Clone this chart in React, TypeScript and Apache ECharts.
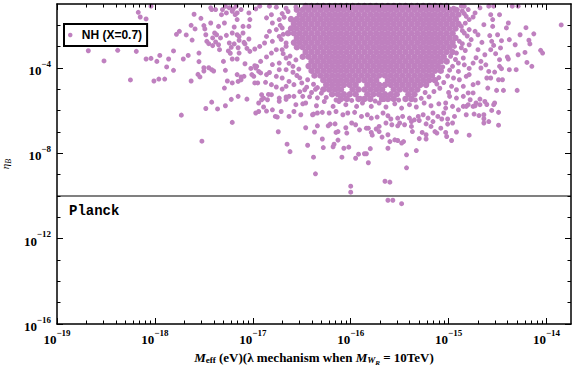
import { useEffect, useRef } from "react";
import * as echarts from "echarts";

// ---- axis description (values are log10 of the quantities) ----
const seriesName = "NH (X=0.7)";
const pointColor = "#bf80bf";
const planckLogEta = -10;
const planckLabel = "Planck";
const xExtent = [-19, -13.75];
const yExtent = [-16, -1];
const xMajorExps = [-19, -18, -17, -16, -15, -14];
const yLabelExps = [-16, -12, -8, -4];
const yMinorExps = [-15, -14, -13, -11, -10, -9, -7, -6, -5, -3, -2];
const minorMultipliers = [2, 3, 4, 5, 6, 7, 8, 9];

// ---- data: [log10 Meff, log10 etaB] ----
// dense core, read row by row: [log10 etaB, log10 Meff values]
const coreRows: [number, number[]][] = [
  [-1.1, [-16.46, -16.4, -16.34, -16.28, -16.22, -16.16, -16.1, -16.04, -15.98, -15.92, -15.86, -15.8, -15.74, -15.68, -15.62, -15.56, -15.5, -15.44, -15.38, -15.32, -15.26, -15.2, -15.14, -15.08, -15.02]],
  [-1.27, [-16.55, -16.49, -16.43, -16.37, -16.31, -16.25, -16.19, -16.13, -16.07, -16.01, -15.95, -15.89, -15.83, -15.77, -15.71, -15.65, -15.59, -15.53, -15.47, -15.41, -15.35, -15.29, -15.23, -15.17, -15.11, -15.05, -14.99, -14.93]],
  [-1.49, [-16.52, -16.46, -16.4, -16.34, -16.28, -16.22, -16.16, -16.1, -16.04, -15.98, -15.92, -15.86, -15.8, -15.74, -15.68, -15.62, -15.56, -15.5, -15.44, -15.38, -15.32, -15.26, -15.2, -15.14, -15.08, -15.02, -14.96, -14.9]],
  [-1.71, [-16.61, -16.55, -16.49, -16.43, -16.37, -16.31, -16.25, -16.19, -16.13, -16.07, -16.01, -15.95, -15.89, -15.83, -15.77, -15.71, -15.65, -15.59, -15.53, -15.47, -15.41, -15.35, -15.29, -15.23, -15.17, -15.11, -15.05, -14.99, -14.93]],
  [-1.93, [-16.58, -16.52, -16.46, -16.4, -16.34, -16.28, -16.22, -16.16, -16.1, -16.04, -15.98, -15.92, -15.86, -15.8, -15.74, -15.68, -15.62, -15.56, -15.5, -15.44, -15.38, -15.32, -15.26, -15.2, -15.14, -15.08, -15.02, -14.96, -14.9]],
  [-2.15, [-16.61, -16.55, -16.49, -16.43, -16.37, -16.31, -16.25, -16.19, -16.13, -16.07, -16.01, -15.95, -15.89, -15.83, -15.77, -15.71, -15.65, -15.59, -15.53, -15.47, -15.41, -15.35, -15.29, -15.23, -15.17, -15.11, -15.05, -14.99, -14.93]],
  [-2.37, [-16.64, -16.58, -16.52, -16.46, -16.4, -16.34, -16.28, -16.22, -16.16, -16.1, -16.04, -15.98, -15.92, -15.86, -15.8, -15.74, -15.68, -15.62, -15.56, -15.5, -15.44, -15.38, -15.32, -15.26, -15.2, -15.14, -15.08, -15.02, -14.96]],
  [-2.59, [-16.55, -16.49, -16.43, -16.37, -16.31, -16.25, -16.19, -16.13, -16.07, -16.01, -15.95, -15.89, -15.83, -15.77, -15.71, -15.65, -15.59, -15.53, -15.47, -15.41, -15.35, -15.29, -15.23, -15.17, -15.11, -15.05, -14.99, -14.93]],
  [-2.81, [-16.58, -16.52, -16.46, -16.4, -16.34, -16.28, -16.22, -16.16, -16.1, -16.04, -15.98, -15.92, -15.86, -15.8, -15.74, -15.68, -15.62, -15.56, -15.5, -15.44, -15.38, -15.32, -15.26, -15.2, -15.14, -15.08, -15.02, -14.96]],
  [-3.03, [-16.55, -16.49, -16.43, -16.37, -16.31, -16.25, -16.19, -16.13, -16.07, -16.01, -15.95, -15.89, -15.83, -15.77, -15.71, -15.65, -15.59, -15.53, -15.47, -15.41, -15.35, -15.29, -15.23, -15.17, -15.11, -15.05, -14.99]],
  [-3.25, [-16.46, -16.4, -16.34, -16.28, -16.22, -16.16, -16.1, -16.04, -15.98, -15.92, -15.86, -15.8, -15.74, -15.68, -15.62, -15.56, -15.5, -15.44, -15.38, -15.32, -15.26, -15.2, -15.14, -15.08, -15.02, -14.96]],
  [-3.47, [-16.49, -16.43, -16.37, -16.31, -16.25, -16.19, -16.13, -16.07, -16.01, -15.95, -15.89, -15.83, -15.77, -15.71, -15.65, -15.59, -15.53, -15.47, -15.41, -15.35, -15.29, -15.23, -15.17, -15.11, -15.05]],
  [-3.69, [-16.4, -16.34, -16.28, -16.22, -16.16, -16.1, -16.04, -15.98, -15.92, -15.86, -15.8, -15.74, -15.68, -15.62, -15.56, -15.5, -15.44, -15.38, -15.32, -15.26, -15.2, -15.14, -15.08, -15.02]],
  [-3.91, [-16.43, -16.37, -16.31, -16.25, -16.19, -16.13, -16.07, -16.01, -15.95, -15.89, -15.83, -15.77, -15.71, -15.65, -15.59, -15.53, -15.47, -15.41, -15.35, -15.29, -15.23, -15.17, -15.11]],
  [-4.13, [-16.4, -16.34, -16.28, -16.22, -16.16, -16.1, -16.04, -15.98, -15.92, -15.86, -15.8, -15.74, -15.68, -15.62, -15.56, -15.5, -15.44, -15.38, -15.32, -15.26, -15.2, -15.14, -15.08]],
  [-4.35, [-16.37, -16.31, -16.25, -16.19, -16.13, -16.07, -16.01, -15.95, -15.89, -15.83, -15.77, -15.71, -15.65, -15.59, -15.53, -15.47, -15.41, -15.35, -15.29, -15.23, -15.17]],
  [-4.57, [-16.28, -16.22, -16.16, -16.1, -16.04, -15.98, -15.92, -15.86, -15.8, -15.74, -15.62, -15.56, -15.5, -15.44, -15.38, -15.32, -15.26, -15.2, -15.14]],
  [-4.79, [-16.25, -16.19, -16.13, -16.07, -16.01, -15.95, -15.83, -15.77, -15.71, -15.65, -15.59, -15.53, -15.47, -15.41, -15.35, -15.29, -15.23]],
  [-5.01, [-16.28, -16.22, -16.16, -16.1, -15.98, -15.92, -15.86, -15.8, -15.74, -15.68, -15.56, -15.5, -15.44, -15.38, -15.32]],
  [-5.23, [-16.19, -16.13, -16.07, -16.01, -15.95, -15.83, -15.77, -15.71, -15.65, -15.59, -15.53, -15.41, -15.35]],
  [-5.45, [-16.1, -16.04, -15.92, -15.86, -15.8, -15.68, -15.62, -15.56, -15.44, -15.38]],
];

// points around the edge of the core
const rimPoints: [number, number][] = [
  [-16.56, -1.14], [-16.68, -1.62], [-16.64, -1.35], [-16.72, -2.0], [-16.69, -2.42], [-16.71, -2.66], [-16.66, -2.98], [-16.69, -3.33],
  [-16.62, -3.44], [-16.63, -3.78], [-16.56, -3.62], [-16.59, -4.2], [-16.53, -4.05], [-16.55, -4.35], [-16.5, -4.7], [-16.45, -4.9],
  [-16.44, -4.55], [-16.4, -5.15], [-16.36, -5.0], [-16.38, -4.76],
  [-14.95, -1.2], [-14.86, -1.33], [-14.82, -1.58], [-14.83, -1.9], [-14.86, -2.25], [-14.81, -2.5], [-14.86, -2.86], [-14.83, -3.18],
  [-14.93, -3.6], [-14.99, -4.1], [-15.01, -4.38], [-15.05, -4.68], [-15.09, -4.95], [-15.15, -5.1], [-15.2, -5.35], [-15.0, -5.15],
  [-15.1, -4.45], [-15.12, -4.75], [-15.06, -3.95], [-14.98, -3.45],
  [-16.25, -5.38], [-16.15, -5.5], [-15.99, -5.52], [-15.9, -5.42], [-15.75, -5.55], [-15.66, -5.48], [-15.51, -5.5], [-15.34, -5.5],
  [-15.28, -5.42], [-16.3, -5.18], [-15.24, -5.15], [-16.34, -4.92],
];

// sparse points on the left (small Meff)
const leftPoints: [number, number][] = [
  [-18.17, -1.39], [-18.15, -1.61], [-18.09, -1.7], [-18.04, -1.1], [-18.68, -3.19], [-18.38, -3.17], [-18.19, -3.22], [-18.52, -3.67],
  [-18.25, -4.56], [-18.09, -3.58], [-18.04, -3.55], [-17.98, -3.69], [-17.95, -3.41], [-18.01, -4.61], [-17.96, -4.52], [-17.9, -4.52],
  [-17.88, -3.95], [-17.86, -3.58], [-17.81, -3.2], [-17.81, -4.11], [-17.78, -2.42], [-17.75, -2.28], [-17.73, -6.21], [-17.71, -3.58],
  [-17.68, -2.45], [-17.66, -3.41], [-17.63, -2.0], [-17.62, -2.69], [-17.63, -4.61], [-17.6, -1.48], [-17.59, -2.17], [-17.56, -4.3],
  [-17.54, -4.42], [-17.55, -3.3], [-17.55, -3.7], [-17.52, -7.43], [-17.53, -1.67], [-17.5, -3.99], [-17.5, -4.14], [-17.49, -2.17],
  [-17.47, -2.75], [-17.48, -5.9], [-17.45, -3.99], [-17.42, -4.08], [-17.4, -4.14], [-17.43, -1.89], [-17.42, -1.26], [-17.42, -5.6],
  [-17.37, -2.44], [-17.38, -2.78], [-17.35, -2.91], [-17.34, -3.14], [-17.36, -5.92], [-17.35, -2.05], [-17.32, -1.5], [-17.31, -1.26],
  [-17.28, -1.11], [-17.3, -3.69], [-17.28, -4.11], [-17.29, -4.94], [-17.28, -5.77], [-17.26, -4.61], [-17.25, -3.2], [-17.23, -3.31],
  [-17.22, -5.47], [-17.21, -6.55], [-17.21, -3.58], [-17.2, -1.23], [-17.18, -1.5], [-17.16, -1.73], [-17.16, -2.44], [-17.15, -3.05],
  [-17.14, -3.3], [-17.15, -5.33], [-17.15, -4.63], [-17.12, -4.42], [-17.09, -4.39], [-17.1, -2.36], [-17.08, -2.87], [-17.06, -3.08],
  [-17.03, -3.22], [-17.08, -3.8], [-17.06, -5.46], [-17.04, -2.05], [-17.03, -1.73], [-17.02, -4.02], [-17.01, -4.31], [-16.99, -4.39],
  [-16.97, -6.11], [-16.94, -5.64], [-16.91, -5.49], [-16.89, -5.83], [-16.96, -3.92], [-16.94, -4.16], [-16.98, -4.7], [-16.95, -4.7],
  [-16.91, -5.25], [-16.89, -5.41], [-16.85, -5.49], [-16.86, -6.02], [-16.84, -5.24], [-16.77, -6.27], [-16.75, -6.3], [-16.74, -6.99],
  [-16.65, -7.57], [-16.62, -7.92], [-16.58, -6.04], [-16.46, -6.8], [-16.44, -7.62], [-16.39, -6.19], [-16.38, -6.16], [-16.38, -8.18],
  [-16.36, -8.96],
  [-17.43, -1.18], [-17.38, -1.26], [-17.24, -1.18], [-17.17, -1.11], [-17.12, -1.26], [-17.27, -1.42], [-17.21, -1.34], [-17.16, -1.42],
  [-17.5, -2.01], [-17.29, -1.89], [-17.19, -2.08], [-17.1, -2.05], [-17.48, -2.44], [-17.39, -2.36], [-17.41, -2.59], [-17.45, -2.86],
  [-17.41, -2.95], [-17.33, -2.59], [-17.27, -2.47], [-17.21, -2.36], [-17.14, -2.52], [-17.24, -2.83], [-17.19, -2.87], [-17.14, -2.7],
  [-17.09, -2.8], [-17.04, -2.64], [-17.22, -3.03], [-16.98, -3.11], [-16.93, -2.99], [-16.88, -2.83], [-17.16, -3.58], [-16.98, -3.89],
  [-16.92, -3.69], [-16.86, -3.48], [-16.81, -3.3], [-17.16, -4.31], [-17.12, -4.55], [-16.97, -4.0], [-16.92, -4.23], [-16.86, -4.31],
  [-16.83, -4.21], [-16.76, -4.39], [-17.21, -4.7], [-16.87, -4.67], [-16.81, -4.78], [-16.76, -4.89], [-16.7, -4.99], [-16.81, -5.25],
  [-16.73, -5.41], [-16.66, -5.36], [-16.58, -5.33], [-16.8, -5.96], [-16.63, -6.27], [-16.51, -6.19], [-17.04, -1.42], [-16.97, -1.23],
  [-16.93, -1.1], [-16.83, -1.1], [-16.76, -1.15], [-16.81, -1.5], [-16.86, -1.65], [-16.8, -1.89], [-16.73, -1.73], [-16.76, -2.2],
  [-16.7, -2.12], [-16.83, -2.28], [-16.86, -2.52], [-16.8, -2.75], [-16.73, -2.52], [-16.66, -2.83], [-16.76, -3.14], [-16.7, -3.14],
  [-16.66, -3.53], [-16.73, -3.77], [-16.8, -3.84], [-16.73, -4.08], [-16.66, -4.08], [-16.59, -3.92], [-16.7, -4.47], [-16.63, -4.63],
  [-16.58, -4.78], [-16.66, -4.86], [-16.52, -4.46], [-16.47, -5.02], [-16.52, -5.11], [-16.42, -5.35], [-16.34, -5.4], [-16.66, -1.2],
  [-16.7, -1.45],
];

// sparse points below the core
const lowerPoints: [number, number][] = [
  [-16.94, -6.04], [-16.73, -5.56], [-16.71, -6.04], [-16.66, -5.47], [-16.63, -5.33], [-16.56, -5.72], [-16.49, -5.68], [-16.34, -6.11],
  [-16.29, -6.08], [-16.37, -7.0], [-16.34, -6.71], [-16.29, -7.33], [-16.28, -7.73], [-16.23, -6.71], [-16.21, -6.63], [-16.16, -6.62],
  [-16.18, -7.69], [-16.17, -7.57], [-16.13, -7.38], [-16.15, -7.02], [-16.13, -6.98], [-16.09, -8.18], [-16.07, -7.76], [-16.02, -7.71],
  [-16.05, -6.8], [-16.04, -7.05], [-16.0, -9.54], [-16.0, -9.82], [-15.99, -6.58], [-15.95, -6.66], [-15.95, -8.23], [-15.92, -8.04],
  [-15.86, -8.02], [-15.84, -8.02], [-15.82, -8.44], [-15.8, -7.78], [-15.82, -6.82], [-15.78, -7.15], [-15.74, -6.86], [-15.71, -6.74],
  [-15.68, -7.24], [-15.62, -7.13], [-15.65, -9.31], [-15.6, -9.35], [-15.62, -7.76], [-15.6, -7.45], [-15.55, -7.37], [-15.52, -7.4],
  [-15.48, -7.52], [-15.46, -7.45], [-15.62, -10.2], [-15.57, -10.2], [-15.48, -10.36], [-15.58, -6.66], [-15.52, -6.71], [-15.45, -6.66],
  [-15.43, -8.07], [-15.43, -8.68], [-15.37, -6.98], [-15.33, -7.87], [-15.3, -7.31], [-15.27, -7.02], [-15.23, -7.13], [-15.38, -6.51],
  [-15.3, -6.46], [-15.23, -6.62], [-15.23, -7.33], [-15.14, -6.98], [-15.12, -7.05], [-15.03, -7.02], [-15.02, -7.21], [-14.97, -7.4],
  [-14.92, -7.0], [-14.79, -7.15], [-15.16, -6.51], [-15.07, -6.39], [-15.01, -6.39], [-15.01, -6.63], [-14.94, -6.27], [-14.74, -6.16],
  [-14.69, -6.23], [-14.64, -6.19], [-14.64, -6.38], [-14.64, -6.58], [-14.59, -6.51], [-14.49, -6.68], [-14.56, -5.99], [-14.54, -5.72],
  [-14.49, -6.08], [-14.51, -5.05], [-14.44, -5.05], [-14.3, -5.05], [-14.85, -5.8], [-14.8, -5.72], [-14.73, -5.77], [-14.68, -5.72],
  [-14.61, -5.71],
  [-16.49, -5.33], [-16.22, -6.11], [-16.15, -6.04], [-16.08, -6.19], [-16.03, -6.11], [-15.96, -6.08], [-15.89, -6.27], [-15.83, -6.19],
  [-15.79, -6.35], [-15.73, -6.3], [-15.67, -6.11], [-15.62, -6.24], [-15.59, -6.39], [-15.52, -6.35], [-15.47, -6.27], [-15.4, -6.35],
  [-15.35, -6.43], [-15.31, -6.27], [-15.26, -6.19], [-15.21, -6.35], [-15.16, -6.11], [-15.11, -6.27], [-15.05, -6.11],
  [-16.46, -5.64], [-16.35, -5.77], [-16.27, -5.57], [-16.18, -5.8], [-16.12, -5.57], [-16.05, -5.72], [-15.94, -5.8], [-15.88, -5.64],
  [-15.79, -5.8], [-15.71, -5.64], [-15.64, -5.83], [-15.55, -5.68], [-15.48, -5.88], [-15.4, -5.72], [-15.33, -5.83], [-15.25, -5.64],
  [-15.18, -5.77], [-15.1, -5.68], [-15.03, -5.88],
  [-15.91, -6.9], [-15.84, -6.82], [-15.79, -7.02], [-15.71, -6.98], [-15.64, -6.58], [-15.5, -6.58], [-15.38, -6.74], [-15.18, -6.74],
  [-15.08, -6.82], [-14.96, -6.58],
];

// sparse points on the right (large Meff)
const rightPoints: [number, number][] = [
  [-13.85, -1.98], [-14.13, -2.4], [-14.18, -2.7], [-14.17, -2.87], [-14.06, -3.17], [-14.04, -3.3], [-14.15, -3.92], [-14.22, -3.27],
  [-14.2, -3.74], [-14.32, -2.91], [-14.29, -3.38], [-14.31, -4.08], [-14.39, -1.89], [-14.41, -2.12], [-14.46, -2.72], [-14.47, -3.06],
  [-14.4, -3.48], [-14.39, -3.58], [-14.48, -3.92], [-14.46, -4.03], [-14.49, -4.55], [-14.45, -4.55], [-14.53, -5.64], [-14.57, -1.5],
  [-14.55, -1.73], [-14.55, -2.05], [-14.58, -2.48], [-14.56, -2.75], [-14.54, -2.94], [-14.57, -3.14], [-14.52, -3.33], [-14.59, -4.16],
  [-14.53, -4.19], [-14.61, -4.47], [-14.57, -4.47], [-14.6, -4.94], [-14.68, -5.46], [-14.63, -5.57], [-14.67, -3.69], [-14.67, -4.0],
  [-14.7, -4.7], [-14.75, -4.78], [-14.75, -3.77], [-14.79, -4.02], [-14.79, -4.31], [-14.73, -2.28], [-14.7, -2.44], [-14.66, -2.8],
  [-14.68, -1.18], [-14.73, -1.42], [-14.8, -1.26], [-14.75, -1.61], [-14.79, -1.73], [-14.84, -1.11], [-14.87, -1.1], [-14.35, -1.1],
  [-14.29, -1.1], [-14.54, -1.1], [-14.59, -1.1],
  [-14.92, -1.73], [-14.87, -2.05], [-14.84, -2.36], [-14.89, -2.75], [-14.94, -2.99], [-14.92, -3.3], [-14.85, -3.53], [-14.9, -3.77],
  [-14.96, -3.92], [-14.9, -4.16], [-14.95, -4.47], [-14.89, -4.55], [-14.82, -4.39], [-14.85, -4.86], [-14.92, -5.02], [-14.97, -4.86],
  [-14.92, -5.41], [-14.85, -5.33], [-14.8, -5.17], [-14.99, -5.33], [-15.03, -5.64], [-14.96, -5.8], [-14.9, -5.96], [-14.82, -5.8],
  [-14.78, -5.49], [-14.75, -5.17], [-14.75, -5.8], [-14.72, -5.64], [-14.82, -6.19], [-14.91, -1.26], [-14.84, -1.45],
  [-14.79, -2.2], [-14.7, -3.14], [-14.79, -2.91], [-14.84, -3.85], [-14.63, -3.38], [-14.64, -1.97], [-14.87, -3.05], [-14.72, -3.52],
  [-14.62, -3.85], [-14.77, -2.67], [-14.5, -2.44], [-14.48, -3.61], [-14.38, -2.67], [-14.27, -2.44], [-14.38, -4.08], [-14.21, -2.11],
  [-14.48, -1.5],
];

const serifFont = "'Liberation Serif', 'DejaVu Serif', serif";

export default function App() {
  const ref = useRef<HTMLDivElement>(null);

  useEffect(() => {
    if (!ref.current) return;
    const chart = echarts.init(ref.current, undefined, { renderer: "svg" });

    const corePoints = coreRows.flatMap(([eta, ms]) => ms.map((m) => [m, eta]));
    const scatterPoints = [...rimPoints, ...leftPoints, ...lowerPoints, ...rightPoints];

    const xMinorTicks = xMajorExps
      .flatMap((n) => minorMultipliers.map((k) => n + Math.log10(k)))
      .filter((v) => v < xExtent[1]);

    const expLabel = (v: number) => `{b|10}{s|${v < 0 ? "\u2212" : ""}${Math.abs(Math.round(v))}}`;
    const expRich = {
      b: { fontFamily: serifFont, fontWeight: "bold", fontSize: 13, lineHeight: 18, verticalAlign: "bottom", color: "#000" },
      s: { fontFamily: serifFont, fontWeight: "bold", fontSize: 9, lineHeight: 10, verticalAlign: "top", color: "#000" },
    };
    const frameLine = { show: true, onZero: false, lineStyle: { color: "#000", width: 1.5 } };
    const tickStyle = { color: "#000", width: 1 };
    const noLabel = { show: false };
    const noSplit = { show: false };

    const xBase = { type: "value", min: xExtent[0], max: xExtent[1], z: 5, splitLine: noSplit };
    const yBase = { type: "value", min: yExtent[0], max: yExtent[1], z: 5, splitLine: noSplit };

    chart.setOption({
      animation: false,
      backgroundColor: "#fff",
      grid: { left: 57, right: 5, top: 4, bottom: 43, containLabel: false, outerBoundsMode: "none" },
      legend: {
        data: [{ name: seriesName, icon: "circle" }],
        left: 64,
        top: 24,
        itemWidth: 13,
        itemHeight: 4.5,
        padding: [5, 5, 5, 4],
        borderColor: "#000",
        borderWidth: 2,
        borderRadius: 0,
        backgroundColor: "#fff",
        selectedMode: false,
        textStyle: { fontFamily: "'Liberation Sans', Arial, sans-serif", fontWeight: "bold", fontSize: 12, color: "#000" },
        z: 10,
      },
      xAxis: [
        {
          ...xBase,
          position: "bottom",
          axisLine: frameLine,
          axisTick: { show: true, inside: true, length: 6, customValues: xMajorExps, lineStyle: tickStyle },
          axisLabel: { show: true, customValues: xMajorExps, formatter: expLabel, rich: expRich, margin: 4 },
          name: "{mi|M}{sb|eff}{t| (eV)(\u03bb mechanism when }{mi|M}{sbi|W}{ssb|R}{t| = 10TeV)}",
          nameLocation: "middle",
          nameGap: 24,
          nameTextStyle: {
            rich: {
              mi: { fontFamily: serifFont, fontStyle: "italic", fontWeight: "bold", fontSize: 13, lineHeight: 13, verticalAlign: "top", color: "#000" },
              t: { fontFamily: serifFont, fontWeight: "bold", fontSize: 13, lineHeight: 13, verticalAlign: "top", color: "#000" },
              sb: { fontFamily: serifFont, fontWeight: "bold", fontSize: 9, lineHeight: 9, verticalAlign: "top", padding: [5, 0, 0, 0], color: "#000" },
              sbi: { fontFamily: serifFont, fontWeight: "bold", fontStyle: "italic", fontSize: 9, lineHeight: 9, verticalAlign: "top", padding: [5, 0, 0, 0], color: "#000" },
              ssb: { fontFamily: serifFont, fontWeight: "bold", fontStyle: "italic", fontSize: 7, lineHeight: 7, verticalAlign: "top", padding: [9, 0, 0, 0], color: "#000" },
            },
          },
        },
        {
          ...xBase,
          position: "bottom",
          axisLine: { show: false },
          axisTick: { show: true, inside: true, length: 3.5, customValues: xMinorTicks, lineStyle: tickStyle },
          axisLabel: noLabel,
        },
        {
          ...xBase,
          position: "top",
          axisLine: frameLine,
          axisTick: { show: true, inside: true, length: 6, customValues: xMajorExps, lineStyle: tickStyle },
          axisLabel: noLabel,
        },
        {
          ...xBase,
          position: "top",
          axisLine: { show: false },
          axisTick: { show: true, inside: true, length: 3.5, customValues: xMinorTicks, lineStyle: tickStyle },
          axisLabel: noLabel,
        },
      ],
      yAxis: [
        {
          ...yBase,
          position: "left",
          axisLine: frameLine,
          axisTick: { show: true, inside: true, length: 6, customValues: yLabelExps, lineStyle: tickStyle },
          axisLabel: { show: true, customValues: yLabelExps, formatter: expLabel, rich: expRich, margin: 6 },
          name: "{e|\u03b7}{sb|B}",
          nameLocation: "middle",
          nameRotate: 90,
          nameGap: 41,
          nameTextStyle: {
            rich: {
              e: { fontFamily: serifFont, fontStyle: "italic", fontSize: 11, lineHeight: 12, verticalAlign: "top", color: "#000" },
              sb: { fontFamily: serifFont, fontStyle: "italic", fontSize: 8, lineHeight: 9, verticalAlign: "top", padding: [5, 0, 0, 0], color: "#000" },
            },
          },
        },
        {
          ...yBase,
          position: "left",
          axisLine: { show: false },
          axisTick: { show: true, inside: true, length: 3.5, customValues: yMinorExps, lineStyle: tickStyle },
          axisLabel: noLabel,
        },
        {
          ...yBase,
          position: "right",
          axisLine: frameLine,
          axisTick: { show: true, inside: true, length: 6, customValues: yLabelExps, lineStyle: tickStyle },
          axisLabel: noLabel,
        },
        {
          ...yBase,
          position: "right",
          axisLine: { show: false },
          axisTick: { show: true, inside: true, length: 3.5, customValues: yMinorExps, lineStyle: tickStyle },
          axisLabel: noLabel,
        },
      ],
      series: [
        {
          type: "scatter",
          name: seriesName,
          xAxisIndex: 0,
          yAxisIndex: 0,
          data: corePoints,
          symbol: "circle",
          symbolSize: 6.5,
          itemStyle: { color: pointColor, opacity: 1 },
          z: 2,
        },
        {
          type: "scatter",
          name: seriesName,
          xAxisIndex: 0,
          yAxisIndex: 0,
          data: scatterPoints,
          symbol: "circle",
          symbolSize: 5,
          itemStyle: { color: pointColor, opacity: 1 },
          z: 2,
          markLine: {
            silent: true,
            symbol: ["none", "none"],
            label: { show: false },
            lineStyle: { color: "#808080", width: 2, type: "solid" },
            data: [{ yAxis: planckLogEta }],
          },
        },
      ],
      graphic: [
        {
          type: "text",
          x: 69,
          y: 211,
          z: 10,
          style: {
            text: planckLabel,
            font: "bold 14px 'Liberation Mono', 'DejaVu Sans Mono', monospace",
            fill: "#000",
            verticalAlign: "middle",
            align: "left",
          },
        },
      ],
    });

    return () => chart.dispose();
  }, []);

  return (
    <div
      ref={ref}
      style={{ position: "absolute", left: 0, top: 0, width: 576, height: 367, background: "#fff" }}
    />
  );
}
